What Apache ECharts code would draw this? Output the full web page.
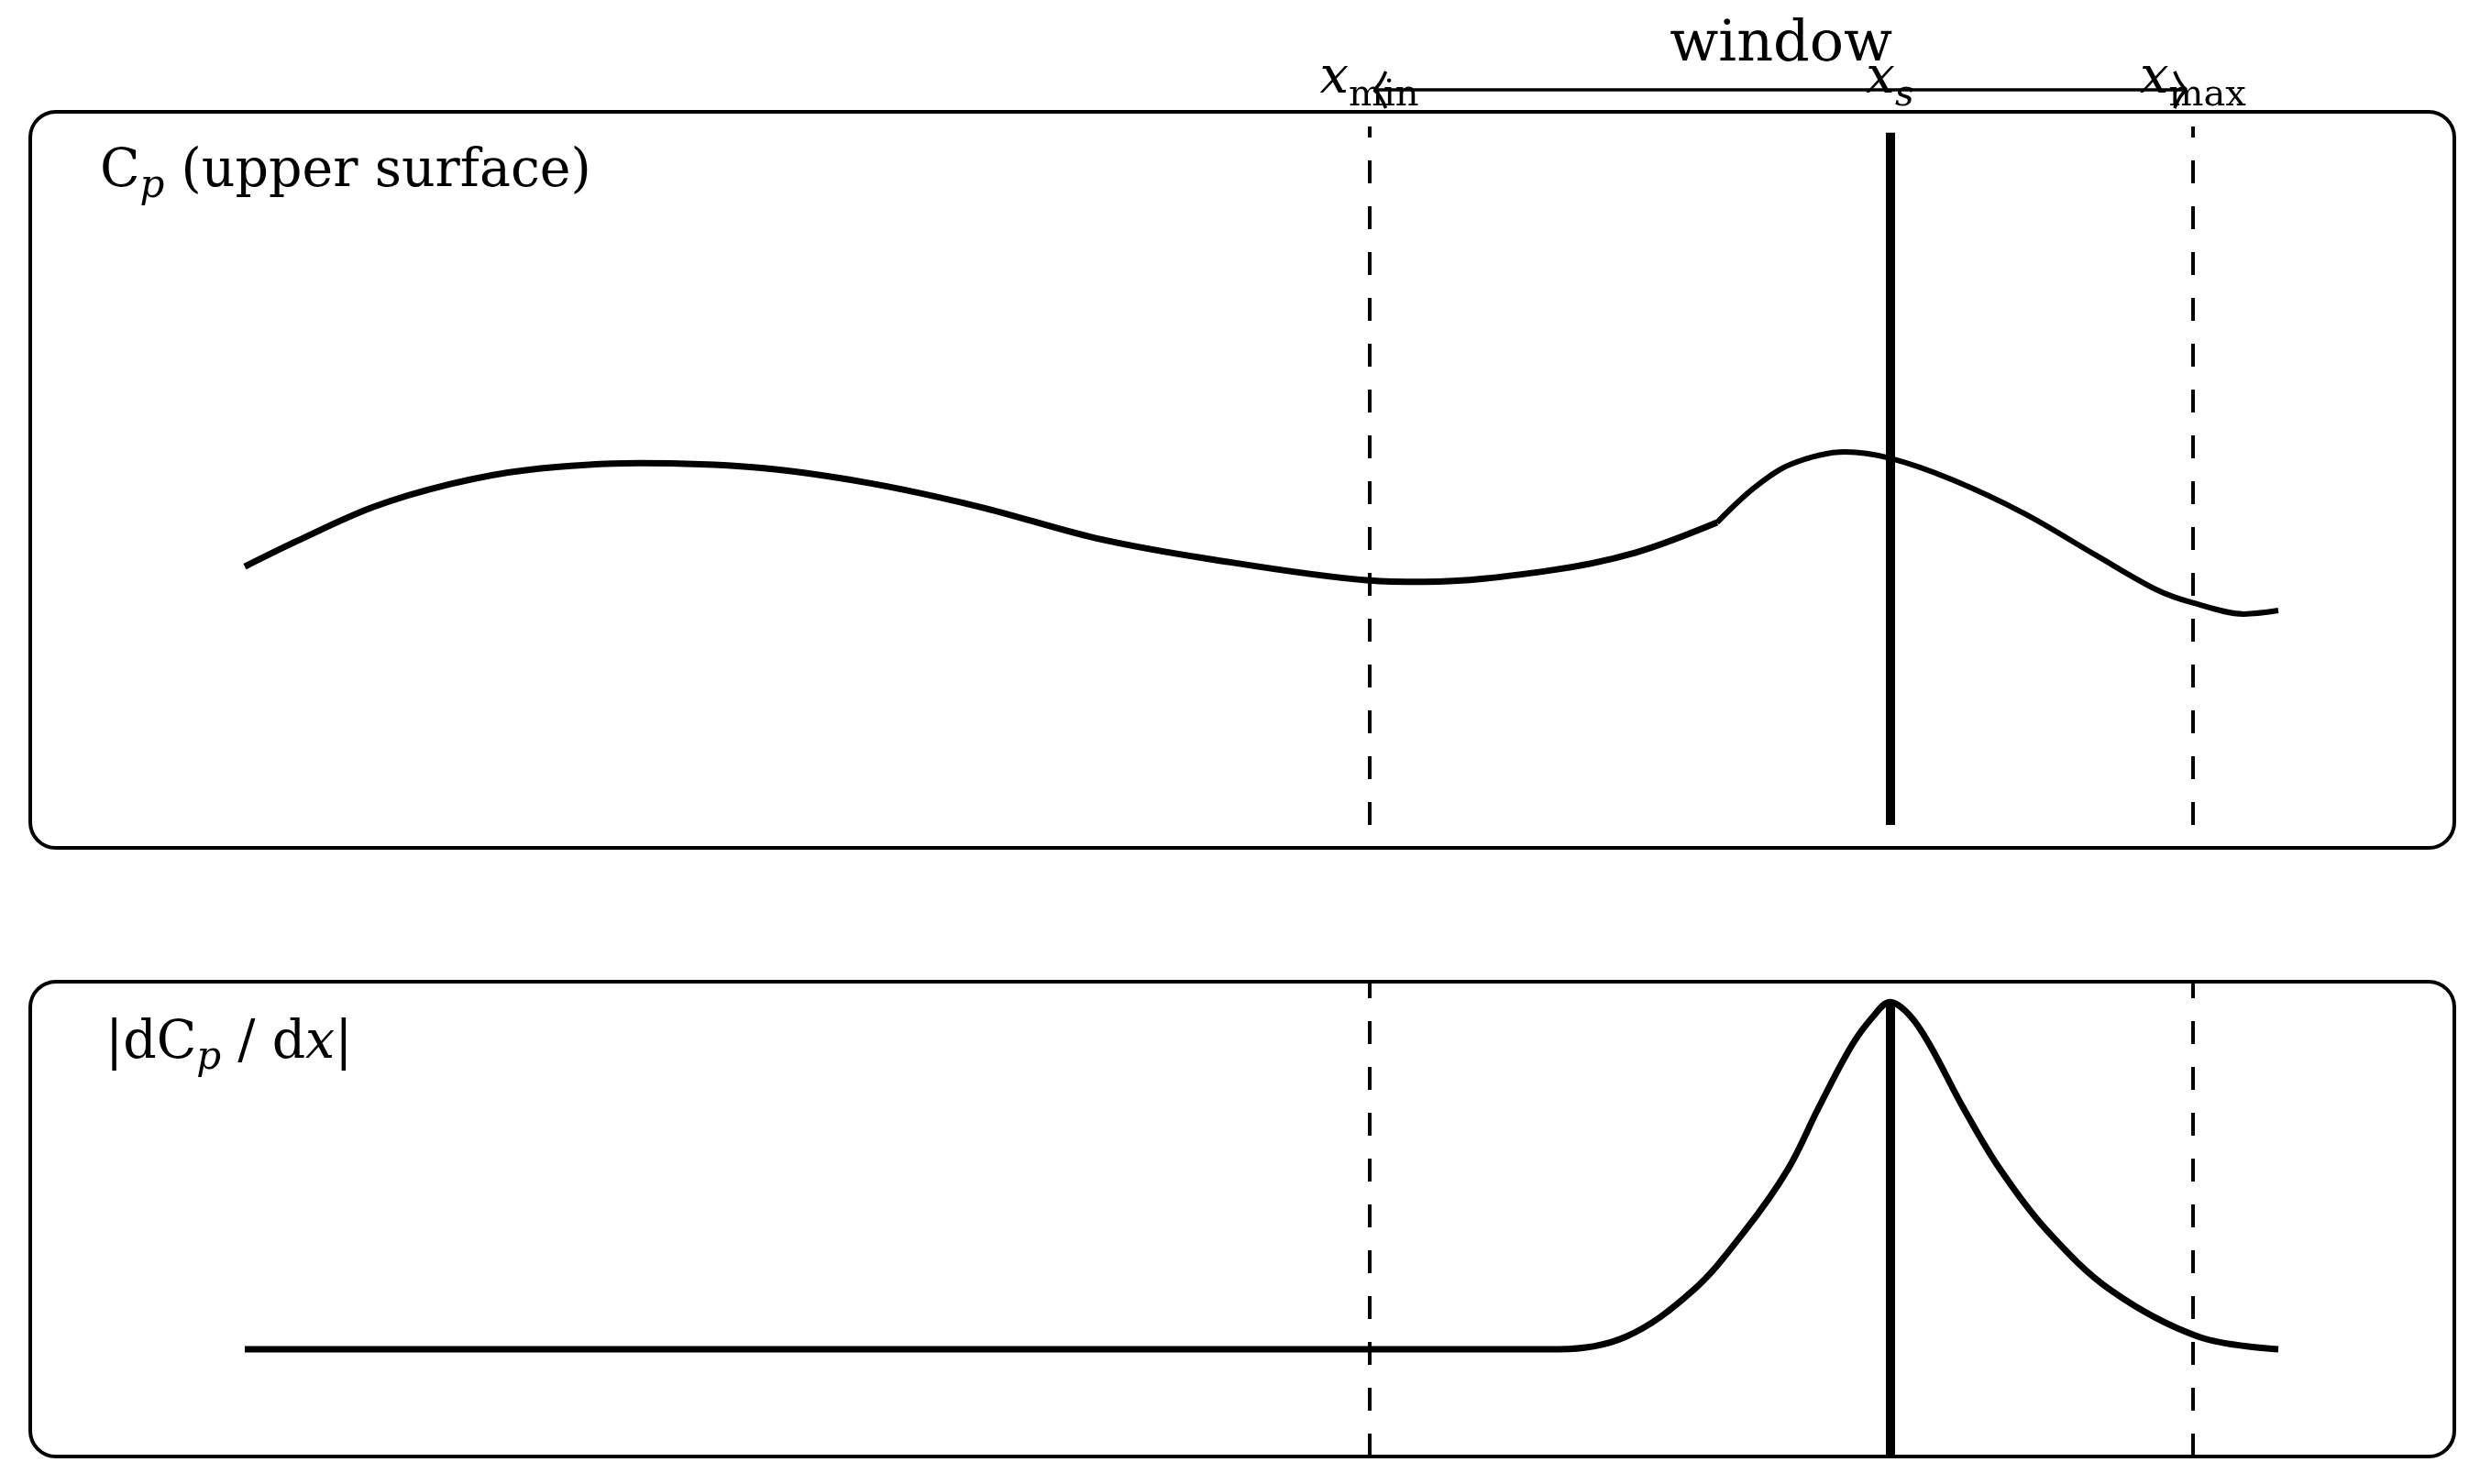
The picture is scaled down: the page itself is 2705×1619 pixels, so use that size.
<!DOCTYPE html>
<html>
<head>
<meta charset="utf-8">
<script src="https://cdn.jsdelivr.net/npm/echarts@6/dist/echarts.min.js"></script>
<style>
html,body{margin:0;padding:0;background:#fff;}
#chart{width:2705px;height:1619px;}
</style>
</head>
<body>
<div id="chart"></div>
<script>
// Cp on the upper surface, chord position 0..1
// two pieces because the curve has a kink at the start of the bump
var cpX1 = [0, 0.026, 0.063, 0.101, 0.138, 0.194, 0.250, 0.306, 0.362, 0.418, 0.474, 0.553, 0.580, 0.641, 0.684, 0.724];
var cpY1 = [0.370, 0.407, 0.455, 0.488, 0.508, 0.518, 0.512, 0.490, 0.455, 0.411, 0.381, 0.350, 0.348, 0.364, 0.390, 0.433];
var cpX2 = [0.724, 0.742, 0.760, 0.787, 0.809, 0.839, 0.875, 0.911, 0.940, 0.958, 0.983, 1.0];
var cpY2 = [0.433, 0.482, 0.516, 0.534, 0.525, 0.495, 0.446, 0.385, 0.337, 0.318, 0.302, 0.307];

// |dCp/dx|
var dX = [0, 0.646, 0.679, 0.712, 0.738, 0.759, 0.774, 0.790, 0.801, 0.809,
          0.819, 0.829, 0.845, 0.863, 0.886, 0.918, 0.961, 1.0];
var dY = [0.226, 0.226, 0.252, 0.349, 0.477, 0.606, 0.735, 0.864, 0.928, 0.957,
          0.928, 0.864, 0.735, 0.606, 0.477, 0.349, 0.252, 0.226];

// window limits and shock position
var xMin = 0.553, xS = 0.809, xMax = 0.958;
var xsTopCp = 0.991;   // where the thick xs line starts in the upper panel
var dPeak = 0.957;     // |dCp/dx| at xs

var FONT = '"DejaVu Serif", serif';

function pairs(xs, ys) {
  var out = [];
  for (var i = 0; i < xs.length; i++) out.push([xs[i], ys[i]]);
  return out;
}

var MyChart = echarts.init(document.getElementById('chart'));

var dashStyle = { color: '#000', width: 4, type: [25, 25] };
var thickStyle = { color: '#000', width: 10, type: 'solid' };

MyChart.setOption({
  animation: false,
  backgroundColor: '#fff',
  grid: [
    { left: 267, top: 138, width: 2218, height: 762 },
    { left: 267, top: 1071, width: 2218, height: 518 }
  ],
  xAxis: [
    { gridIndex: 0, type: 'value', min: 0, max: 1, show: false },
    { gridIndex: 1, type: 'value', min: 0, max: 1, show: false }
  ],
  yAxis: [
    { gridIndex: 0, type: 'value', min: 0, max: 1, show: false },
    { gridIndex: 1, type: 'value', min: 0, max: 1, show: false }
  ],
  series: [
    {
      name: 'Cp',
      type: 'line',
      xAxisIndex: 0, yAxisIndex: 0,
      data: pairs(cpX1, cpY1),
      smooth: 0.33,
      showSymbol: false,
      lineStyle: { color: '#000', width: 7 },
      markLine: {
        silent: true,
        symbol: 'none',
        label: { show: false },
        data: [
          [{ coord: [xMin, 0], lineStyle: dashStyle }, { coord: [xMin, 1] }],
          [{ coord: [xMax, 0], lineStyle: dashStyle }, { coord: [xMax, 1] }],
          [{ coord: [xS, 0], lineStyle: thickStyle }, { coord: [xS, xsTopCp] }]
        ]
      }
    },
    {
      name: 'Cp2',
      type: 'line',
      xAxisIndex: 0, yAxisIndex: 0,
      data: pairs(cpX2, cpY2),
      smooth: 0.33,
      showSymbol: false,
      lineStyle: { color: '#000', width: 6 }
    },
    {
      name: 'dCp',
      type: 'line',
      xAxisIndex: 1, yAxisIndex: 1,
      data: pairs(dX, dY),
      smooth: 0.35,
      showSymbol: false,
      lineStyle: { color: '#000', width: 7 },
      markLine: {
        silent: true,
        symbol: 'none',
        label: { show: false },
        data: [
          [{ coord: [xMin, 0], lineStyle: dashStyle }, { coord: [xMin, 1] }],
          [{ coord: [xMax, 0], lineStyle: dashStyle }, { coord: [xMax, 1] }],
          [{ coord: [xS, 0], lineStyle: thickStyle }, { coord: [xS, dPeak] }]
        ]
      }
    }
  ]
});

// text runs with subscripts, measured so the pieces sit next to each other
var ctx = document.createElement('canvas').getContext('2d');
function textRun(parts, x, baseline, center) {
  var widths = parts.map(function (p) {
    ctx.font = (p.italic ? 'italic ' : '') + p.fs + 'px ' + FONT;
    return ctx.measureText(p.t).width;
  });
  var total = widths.reduce(function (a, b) { return a + b; }, 0);
  var cx = center ? x - total / 2 : x;
  var els = [];
  parts.forEach(function (p, i) {
    els.push({
      type: 'text',
      x: cx,
      y: baseline + (p.dy || 0) - 0.3 * p.fs,
      z: 10,
      style: {
        text: p.t,
        font: (p.italic ? 'italic ' : '') + p.fs + 'px ' + FONT,
        fill: '#000',
        textAlign: 'left', align: 'left',
        textVerticalAlign: 'middle', verticalAlign: 'middle'
      }
    });
    cx += widths[i];
  });
  return els;
}

var pxMin = MyChart.convertToPixel({ xAxisIndex: 0 }, xMin);
var pxS = MyChart.convertToPixel({ xAxisIndex: 0 }, xS);
var pxMax = MyChart.convertToPixel({ xAxisIndex: 0 }, xMax);
var arrowY = 98;

var graphics = [
  { type: 'rect', shape: { x: 33, y: 122, width: 2644, height: 803, r: 28 },
    style: { fill: 'none', stroke: '#000', lineWidth: 4 } },
  { type: 'rect', shape: { x: 33, y: 1071, width: 2644, height: 518, r: 28 },
    style: { fill: 'none', stroke: '#000', lineWidth: 4 } },
  // window arrow
  { type: 'line', shape: { x1: pxMin + 5, y1: arrowY, x2: pxMax - 7, y2: arrowY },
    style: { stroke: '#000', lineWidth: 3.5 } },
  { type: 'bezierCurve', shape: { x1: pxMin + 18, y1: arrowY - 20, cpx1: pxMin + 12, cpy1: arrowY - 5, x2: pxMin + 5, y2: arrowY },
    style: { stroke: '#000', lineWidth: 3.5, fill: 'none' } },
  { type: 'bezierCurve', shape: { x1: pxMin + 18, y1: arrowY + 20, cpx1: pxMin + 12, cpy1: arrowY + 5, x2: pxMin + 5, y2: arrowY },
    style: { stroke: '#000', lineWidth: 3.5, fill: 'none' } },
  { type: 'bezierCurve', shape: { x1: pxMax - 20, y1: arrowY - 20, cpx1: pxMax - 14, cpy1: arrowY - 5, x2: pxMax - 7, y2: arrowY },
    style: { stroke: '#000', lineWidth: 3.5, fill: 'none' } },
  { type: 'bezierCurve', shape: { x1: pxMax - 20, y1: arrowY + 20, cpx1: pxMax - 14, cpy1: arrowY + 5, x2: pxMax - 7, y2: arrowY },
    style: { stroke: '#000', lineWidth: 3.5, fill: 'none' } }
];

graphics = graphics
  .concat(textRun([{ t: 'window', fs: 62 }], (pxMin + pxMax) / 2, 68, true))
  .concat(textRun([{ t: 'x', fs: 56, italic: true }, { t: 'min', fs: 40, dy: 14 }], pxMin, 103, true))
  .concat(textRun([{ t: 'x', fs: 56, italic: true }, { t: 's', fs: 40, italic: true, dy: 14 }], pxS, 103, true))
  .concat(textRun([{ t: 'x', fs: 56, italic: true }, { t: 'max', fs: 40, dy: 14 }], pxMax, 103, true))
  .concat(textRun([
    { t: 'C', fs: 57 }, { t: 'p', fs: 42, italic: true, dy: 12 },
    { t: ' (upper surface)', fs: 57 }
  ], 109, 205, false))
  .concat(textRun([
    { t: '|dC', fs: 57 }, { t: 'p', fs: 42, italic: true, dy: 12 },
    { t: ' / d', fs: 57 }, { t: 'x', fs: 57, italic: true }, { t: '|', fs: 57 }
  ], 115, 1156, false));

MyChart.setOption({ graphic: graphics });

window.addEventListener('resize', function () {
  MyChart.resize();
});
</script>
</body>
</html>
